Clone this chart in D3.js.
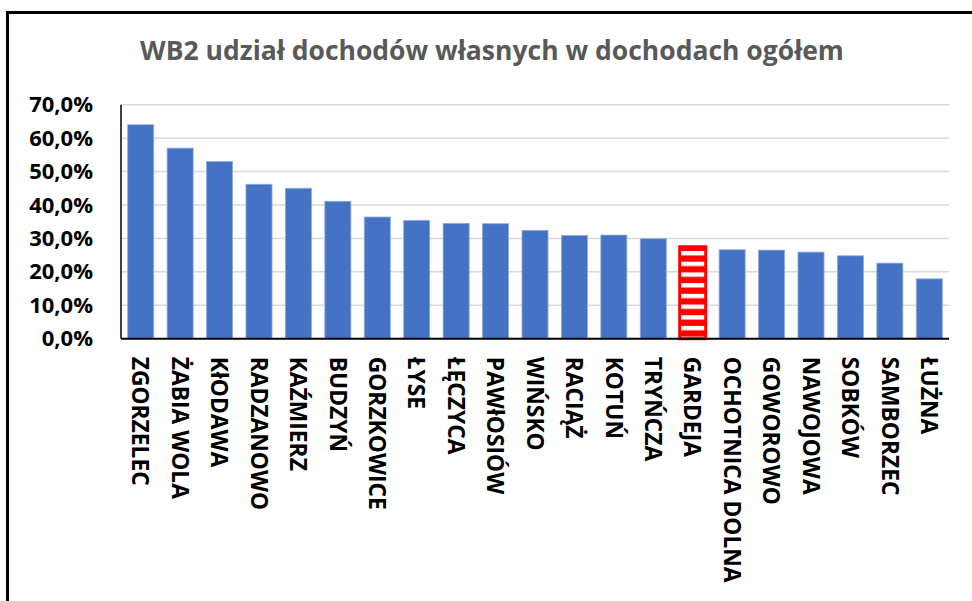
<!DOCTYPE html>
<html>
<head>
<meta charset="utf-8">
<script src="https://cdn.jsdelivr.net/npm/d3@7"></script>
<style>
  body { margin: 0; background: #fff; }
  text { font-family: "Open Sans", sans-serif; font-weight: bold; }
</style>
</head>
<body>
<div id="chart"></div>
<script>
// gminy and their share of own income in total income
var gminy = ["ZGORZELEC", "ŻABIA WOLA", "KłODAWA", "RADZANOWO", "KAŹMIERZ", "BUDZYŃ",
    "GORZKOWICE", "ŁYSE", "ŁĘCZYCA", "PAWłOSIÓW", "WIŃSKO", "RACIĄŻ", "KOTUŃ",
    "TRYŃCZA", "GARDEJA", "OCHOTNICA DOLNA", "GOWOROWO", "NAWOJOWA", "SOBKÓW",
    "SAMBORZEC", "ŁUŻNA"];
var udzial = [0.640, 0.570, 0.530, 0.462, 0.450, 0.411,
    0.364, 0.354, 0.345, 0.344, 0.324, 0.309, 0.310,
    0.299, 0.275, 0.266, 0.265, 0.259, 0.248,
    0.226, 0.179];
var yTicks = [0, 0.1, 0.2, 0.3, 0.4, 0.5, 0.6, 0.7];
var highlight = "GARDEJA";

var data = gminy.map(function (g, i) { return { name: g, value: udzial[i] }; });

var svg = d3.select("#chart")
    .append("svg")
    .attr("width", 972)
    .attr("height", 601),
    margin = { top: 104.7, right: 23, bottom: 262.3, left: 121 },
    width = 972 - margin.left - margin.right,
    height = 601 - margin.top - margin.bottom;

svg.append("rect").attr("width", 972).attr("height", 601).attr("fill", "#fff");

// frame of the pasted chart (only left and top edges visible)
svg.append("path")
    .attr("d", "M7.5,601 V12.5 H972")
    .attr("fill", "none")
    .attr("stroke", "#000")
    .attr("stroke-width", 3);

// title
svg.append("text")
    .attr("x", 492)
    .attr("y", 60)
    .attr("text-anchor", "middle")
    .attr("fill", "#595959")
    .style("font-size", "26.5px")
    .text("WB2 udział dochodów własnych w dochodach ogółem");

// stripes for highlighted bar
var defs = svg.append("defs");
var pat = defs.append("pattern")
    .attr("id", "stripes")
    .attr("patternUnits", "userSpaceOnUse")
    .attr("width", 10)
    .attr("height", 10.7)
    .attr("y", 253.3);
pat.append("rect").attr("width", 10).attr("height", 10.7).attr("fill", "#ff0000");
pat.append("rect").attr("y", 0).attr("width", 10).attr("height", 4.4).attr("fill", "#ffffff");

var g = svg.append("g")
    .attr("transform", "translate(" + margin.left + "," + margin.top + ")");

var x = d3.scaleBand()
    .domain(gminy)
    .range([0, width])
    .paddingInner(0.34)
    .paddingOuter(0.17);

var y = d3.scaleLinear()
    .domain([0, 0.7])
    .range([height, 0]);

var fmt = function (d) { return d3.format(".1f")(d * 100).replace(".", ",") + "%"; };

// gridlines
g.append("g")
    .selectAll("line")
    .data(yTicks.slice(1))
    .enter().append("line")
    .attr("x1", 0)
    .attr("x2", width)
    .attr("y1", function (d) { return y(d); })
    .attr("y2", function (d) { return y(d); })
    .attr("stroke", "#d9d9d9")
    .attr("stroke-width", 1.5);

// y axis labels
g.append("g")
    .call(d3.axisLeft(y).tickValues(yTicks).tickFormat(fmt).tickSize(0).tickPadding(28))
    .call(function (a) { a.select(".domain").remove(); })
    .selectAll("text")
    .attr("fill", "#000")
    .style("font-size", "22px")
    .style("font-family", "'Open Sans', sans-serif")
    .style("font-weight", "bold");

// bars
g.selectAll(".bar")
    .data(data)
    .enter().append("rect")
    .attr("class", "bar")
    .attr("x", function (d) { return x(d.name); })
    .attr("width", x.bandwidth())
    .attr("y", function (d) { return y(d.value); })
    .attr("height", function (d) { return height - y(d.value); })
    .attr("fill", function (d) { return d.name === highlight ? "url(#stripes)" : "#4472c4"; })
    .attr("stroke", function (d) { return d.name === highlight ? "#ff0000" : "#8eaadb"; })
    .attr("stroke-width", function (d) { return d.name === highlight ? 3 : 0.8; });

// axis lines
g.append("line")
    .attr("x1", 0).attr("x2", 0)
    .attr("y1", 0).attr("y2", height)
    .attr("stroke", "#000").attr("stroke-width", 1.5);
g.append("line")
    .attr("x1", 0).attr("x2", width)
    .attr("y1", height).attr("y2", height)
    .attr("stroke", "#000").attr("stroke-width", 2);

// category labels, rotated
g.append("g")
    .selectAll("text")
    .data(gminy)
    .enter().append("text")
    .attr("transform", function (d) {
        return "translate(" + (x(d) + x.bandwidth() / 2) + "," + (height + 18) + ") rotate(90)";
    })
    .attr("dy", "0.36em")
    .attr("fill", "#000")
    .style("font-size", "22.8px")
    .text(function (d) { return d; });
</script>
</body>
</html>
